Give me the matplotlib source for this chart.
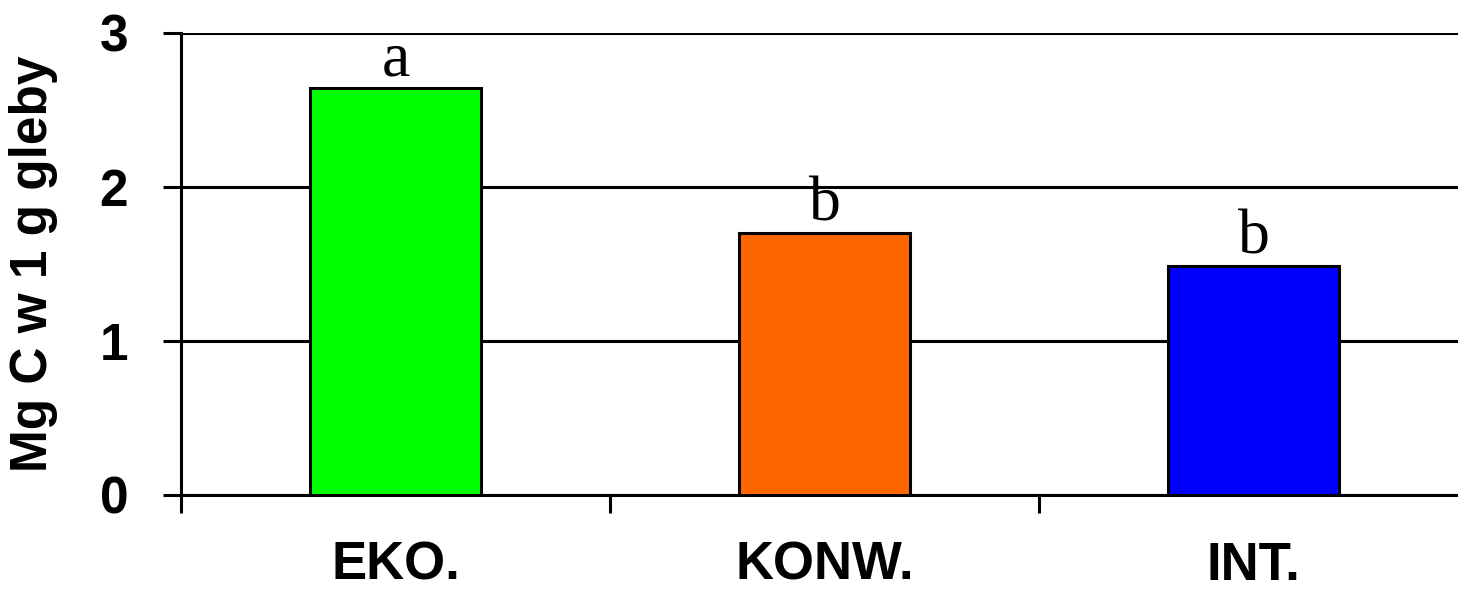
import matplotlib.pyplot as plt
from matplotlib.ticker import FixedLocator

categories = ['EKO.', 'KONW.', 'INT.']
values = [2.64, 1.70, 1.49]
letters = ['a', 'b', 'b']
colors = ['#00FF00', '#FF6600', '#0000FF']

fig = plt.figure(figsize=(14.58, 5.94), dpi=100)
ax = fig.add_axes([181 / 1458, 1 - 495 / 594, (1468 - 181) / 1458, 462 / 594])

x = list(range(len(categories)))
bars = ax.bar(x, values, width=0.40, color=colors, edgecolor='black', linewidth=2.2, zorder=3)

for xi, v, t in zip(x, values, letters):
    ax.annotate(t, (xi, v), xytext=(0, 9), textcoords='offset points',
                ha='center', va='baseline', fontsize=46, family='Liberation Serif')

ax.set_xlim(-0.5, 2.5)
ax.set_ylim(0, 3)
ax.set_yticks([0, 1, 2, 3])
ax.yaxis.grid(True, color='black', linewidth=2.2, zorder=1)
ax.set_axisbelow(True)

ax.set_xticks(x)
ax.set_xticklabels(categories)
ax.xaxis.set_minor_locator(FixedLocator([-0.5, 0.5, 1.5]))
ax.tick_params(axis='x', which='major', length=0, pad=33)
ax.tick_params(axis='x', which='minor', length=13, width=2.2, direction='out')
ax.tick_params(axis='y', length=13, width=2.2, direction='out', pad=25)

for lbl in ax.get_xticklabels():
    lbl.set_fontsize(38)
    lbl.set_fontweight('bold')
    lbl.set_family('Liberation Sans')
for lbl in ax.get_yticklabels():
    lbl.set_fontsize(37)
    lbl.set_fontweight('bold')
    lbl.set_family('Liberation Sans')

ax.set_ylabel('Mg C w 1 g gleby', fontsize=37, fontweight='bold', family='Liberation Sans', labelpad=30)

for s in ['top', 'right']:
    ax.spines[s].set_visible(False)
for s in ['left', 'bottom']:
    ax.spines[s].set_linewidth(2.2)

fig.savefig('out.png', dpi=100)
